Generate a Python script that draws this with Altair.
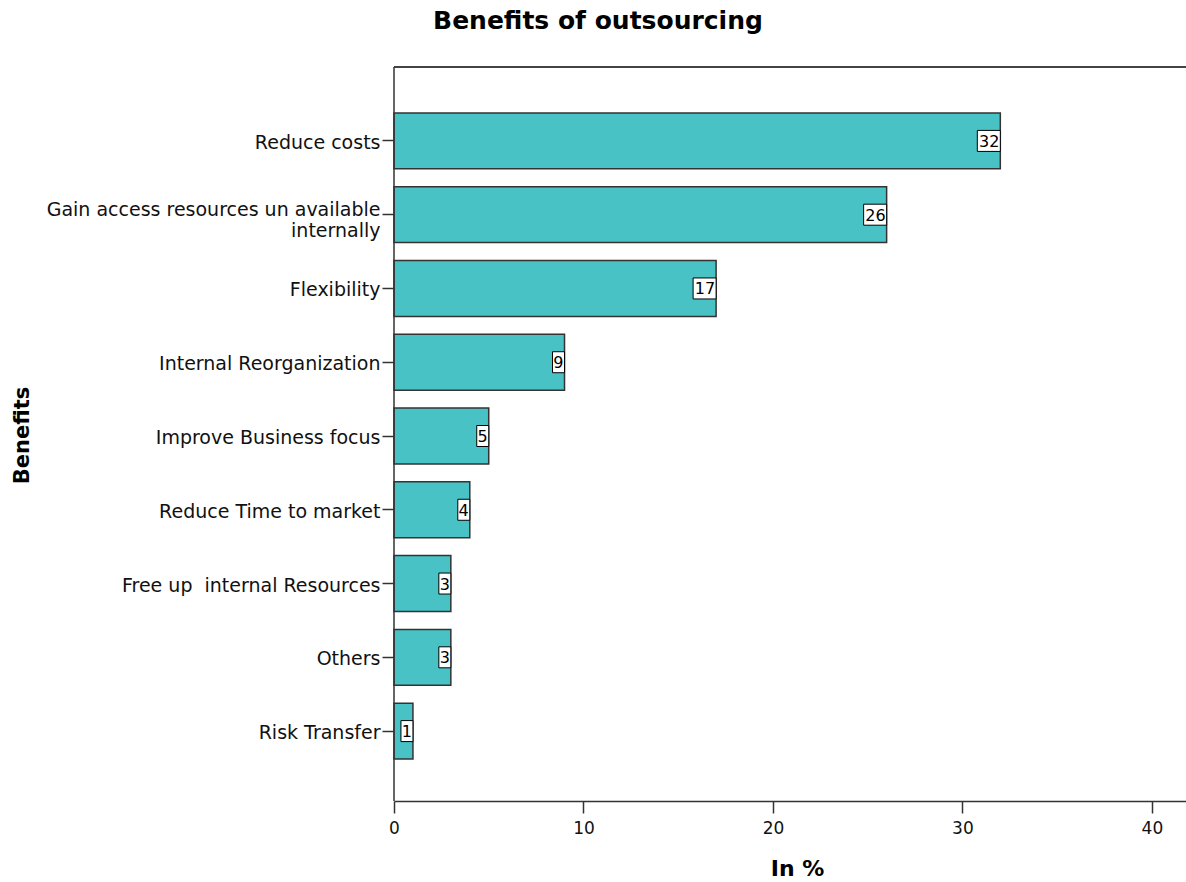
import altair as alt
import pandas as pd

# Survey answers: benefits of outsourcing, share of respondents in %
benefits = [
    "Reduce costs",
    "Gain access resources un available|internally",
    "Flexibility",
    "Internal Reorganization",
    "Improve Business focus",
    "Reduce Time to market",
    "Free up\u00a0 internal Resources",
    "Others",
    "Risk Transfer",
]
percent = [32, 26, 17, 9, 5, 4, 3, 3, 1]
x_ticks = [0, 10, 20, 30, 40]

df = pd.DataFrame({"benefit": benefits, "percent": percent})

FONT = "DejaVu Sans"
BAR_FILL = "#48C2C5"
EDGE = "#333333"
W, H = 792, 734

y_enc = alt.Y(
    "benefit:N",
    sort=benefits,
    scale=alt.Scale(range=[46, 692], paddingInner=0.243, paddingOuter=0),
    axis=alt.Axis(
        title="Benefits",
        titleFont=FONT,
        titleFontSize=21,
        titleFontWeight="bold",
        titleColor="#000000",
        titleAngle=270,
        titleX=-372,
        titleY=368,
        titleAlign="center",
        titleBaseline="middle",
        labelFont=FONT,
        labelFontSize=19,
        labelColor="#111111",
        labelExpr="split(datum.label, '|')",
        labelLineHeight=21,
        labelBaseline="middle",
        labelOffset={"expr": "indexof(datum.value, '|') >= 0 ? -5 : 2"},
        labelPadding=2,
        labelLimit=0,
        tickSize=12,
        tickColor=EDGE,
        tickWidth=1.5,
        domain=False,
    ),
)

x_enc = alt.X(
    "percent:Q",
    scale=alt.Scale(domain=[0, 41.8], nice=False, zero=True),
    axis=alt.Axis(
        title="In %",
        titleFont=FONT,
        titleFontSize=22,
        titleFontWeight="bold",
        titleColor="#000000",
        titleX=403,
        titleY=67,
        titleAlign="center",
        titleBaseline="middle",
        values=x_ticks,
        labelFont=FONT,
        labelFontSize=17,
        labelColor="#111111",
        labelPadding=7,
        labelFlush=False,
        tickSize=12,
        tickColor=EDGE,
        tickWidth=1.5,
        domainColor=EDGE,
        domainWidth=1.5,
        grid=False,
    ),
)

base = alt.Chart(df)

bars = base.mark_bar(
    fill=BAR_FILL, stroke=EDGE, strokeWidth=1.5, opacity=1
).encode(x=x_enc, y=y_enc)

# white value boxes sitting at the end of each bar
box_two = base.transform_filter("datum.percent >= 10").mark_bar(
    fill="white", stroke="#000000", strokeWidth=1, height=21, xOffset=-23, x2Offset=0
).encode(x="percent:Q", x2="percent:Q", y=alt.Y("benefit:N", sort=benefits))

box_one = base.transform_filter("datum.percent < 10").mark_bar(
    fill="white", stroke="#000000", strokeWidth=1, height=21, xOffset=-12, x2Offset=0
).encode(x="percent:Q", x2="percent:Q", y=alt.Y("benefit:N", sort=benefits))

values = base.mark_text(
    font=FONT, fontSize=16, color="#000000", align="right", baseline="middle", dx=-1, dy=1
).encode(
    x="percent:Q",
    y=alt.Y("benefit:N", sort=benefits),
    text="percent:Q",
)

# frame: top edge and left edge of the plotting area
frame_src = alt.Data(values=[{"k": 0}])
top_edge = alt.Chart(frame_src).mark_rule(color="#444444", strokeWidth=2).encode(
    x=alt.value(0), x2=alt.value(W), y=alt.value(0)
)
left_edge = alt.Chart(frame_src).mark_rule(color=EDGE, strokeWidth=1.5).encode(
    x=alt.value(0), y=alt.value(0), y2=alt.value(H)
)

chart = alt.layer(bars, box_two, box_one, values, top_edge, left_edge).properties(
    width=W,
    height=H,
    autosize=alt.AutoSizeParams(type="none"),
    padding={"left": 394, "top": 67, "right": 0, "bottom": 79},
    background="white",
    title=alt.TitleParams(
        "Benefits of outsourcing",
        font=FONT,
        fontSize=25,
        fontWeight="bold",
        color="#000000",
        anchor="middle",
        frame="group",
        dx=-192,
        offset=20,
        baseline="middle",
    ),
).configure_view(stroke=None)

chart.save("out.html", embed_options={"renderer": "svg", "actions": False})
